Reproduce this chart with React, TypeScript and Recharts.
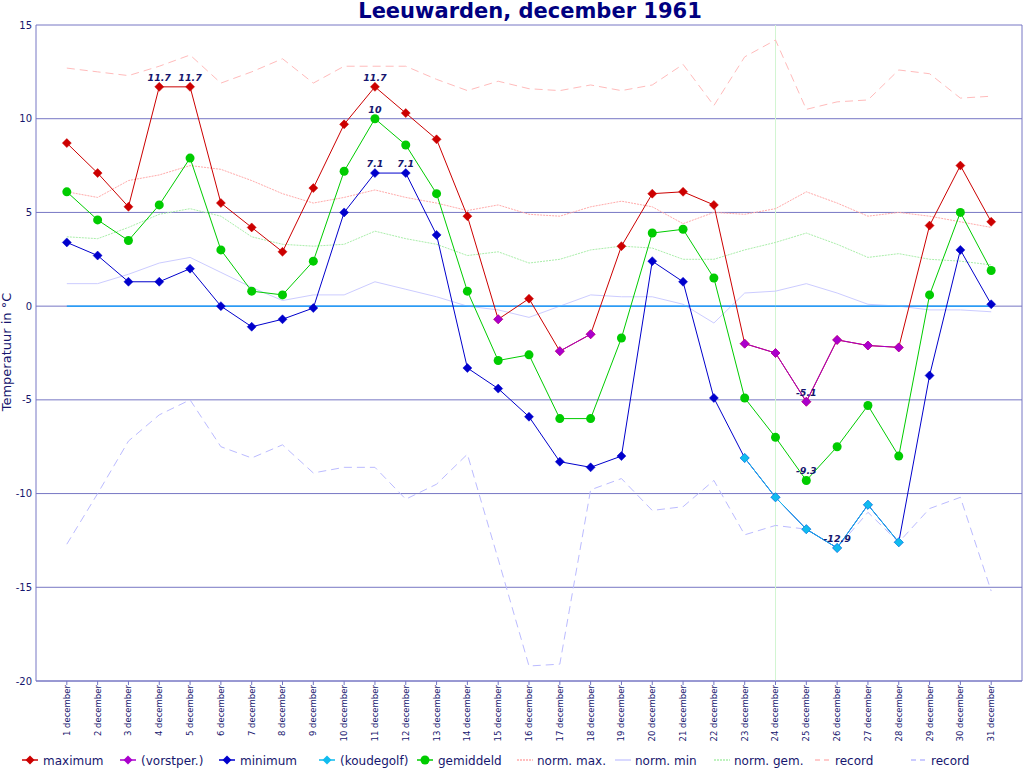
import { LineChart, Line, XAxis, YAxis, CartesianGrid, ReferenceLine } from 'recharts';

// Leeuwarden, december 1961 — dagwaarden in °C
const days = [1, 2, 3, 4, 5, 6, 7, 8, 9, 10, 11, 12, 13, 14, 15, 16, 17, 18, 19, 20, 21, 22, 23, 24, 25, 26, 27, 28, 29, 30, 31];

const maximum = [8.7, 7.1, 5.3, 11.7, 11.7, 5.5, 4.2, 2.9, 6.3, 9.7, 11.7, 10.3, 8.9, 4.8, -0.7, 0.4, -2.4, -1.5, 3.2, 6.0, 6.1, 5.4, -2.0, -2.5, -5.1, -1.8, -2.1, -2.2, 4.3, 7.5, 4.5];
// max onder nul (vorstperiode)
const vorstper = [null, null, null, null, null, null, null, null, null, null, null, null, null, null, -0.7, null, -2.4, -1.5, null, null, null, null, -2.0, -2.5, -5.1, -1.8, -2.1, -2.2, null, null, null];
const minimum = [3.4, 2.7, 1.3, 1.3, 2.0, 0.0, -1.1, -0.7, -0.1, 5.0, 7.1, 7.1, 3.8, -3.3, -4.4, -5.9, -8.3, -8.6, -8.0, 2.4, 1.3, -4.9, -8.1, -10.2, -11.9, -12.9, -10.6, -12.6, -3.7, 3.0, 0.1];
const koudegolf = [null, null, null, null, null, null, null, null, null, null, null, null, null, null, null, null, null, null, null, null, null, null, -8.1, -10.2, -11.9, -12.9, -10.6, -12.6, null, null, null];
const gemiddeld = [6.1, 4.6, 3.5, 5.4, 7.9, 3.0, 0.8, 0.6, 2.4, 7.2, 10.0, 8.6, 6.0, 0.8, -2.9, -2.6, -6.0, -6.0, -1.7, 3.9, 4.1, 1.5, -4.9, -7.0, -9.3, -7.5, -5.3, -8.0, 0.6, 5.0, 1.9];

const normMax = [6.1, 5.8, 6.7, 7.0, 7.5, 7.3, 6.7, 6.0, 5.5, 5.8, 6.2, 5.8, 5.5, 5.1, 5.4, 4.9, 4.8, 5.3, 5.6, 5.3, 4.4, 5.0, 4.9, 5.2, 6.1, 5.5, 4.8, 5.0, 4.8, 4.5, 4.2];
const normMin = [1.2, 1.2, 1.7, 2.3, 2.6, 1.8, 1.0, 0.3, 0.6, 0.6, 1.3, 0.9, 0.5, 0.0, -0.2, -0.6, 0.0, 0.6, 0.5, 0.5, 0.1, -0.9, 0.7, 0.8, 1.2, 0.7, 0.1, 0.0, -0.2, -0.2, -0.3];
const normGem = [3.7, 3.6, 4.2, 4.9, 5.2, 4.8, 3.7, 3.3, 3.2, 3.3, 4.0, 3.6, 3.3, 2.7, 2.9, 2.3, 2.5, 3.0, 3.2, 3.1, 2.5, 2.5, 3.0, 3.4, 3.9, 3.3, 2.6, 2.8, 2.5, 2.4, 2.2];
const recordMax = [12.7, 12.5, 12.3, 12.8, 13.4, 11.9, 12.5, 13.2, 11.9, 12.8, 12.8, 12.8, 12.1, 11.5, 12.0, 11.6, 11.5, 11.8, 11.5, 11.8, 12.9, 10.7, 13.3, 14.2, 10.5, 10.9, 11.0, 12.6, 12.4, 11.1, 11.2];
const recordMin = [-12.7, -10.0, -7.2, -5.8, -5.0, -7.5, -8.1, -7.4, -8.9, -8.6, -8.6, -10.3, -9.5, -7.9, -13.5, -19.2, -19.1, -9.8, -9.2, -10.9, -10.7, -9.3, -12.2, -11.7, -11.9, -12.9, -11.0, -12.6, -10.8, -10.2, -15.2];

const yTicks = [-20, -15, -10, -5, 0, 5, 10, 15];
const xDomain = [0, 32];
const markedDay = 24;

const chartData = days.map((day, i) => ({
  day,
  maximum: maximum[i],
  vorstper: vorstper[i],
  minimum: minimum[i],
  koudegolf: koudegolf[i],
  gemiddeld: gemiddeld[i],
  normMax: normMax[i],
  normMin: normMin[i],
  normGem: normGem[i],
  recordMax: recordMax[i],
  recordMin: recordMin[i],
}));

const FONT = '"DejaVu Sans", Verdana, sans-serif';
const NAVY = '#16166e';
const GRID = '#7777c4';
const C = {
  max: '#cc0000', vorst: '#aa00cc', min: '#0000cc', koude: '#11bbee', gem: '#00cc00',
  nMax: '#ffaaaa', nMin: '#ccccff', nGem: '#aaeeaa', rMax: '#ffbbbb', rMin: '#bbbbff',
};

const diamondPath = (cx: number, cy: number, r: number) => `M${cx},${cy - r}L${cx + r},${cy}L${cx},${cy + r}L${cx - r},${cy}Z`;

const diamondDot = (color: string) => (props: any) => {
  const { cx, cy, index, value } = props;
  if (cx == null || cy == null || value == null) return <g key={`e-${index}`} />;
  return <path key={`d-${index}`} d={diamondPath(cx, cy, 4.5)} fill={color} stroke={color} strokeWidth={0.5} />;
};

const circleDot = (color: string) => (props: any) => {
  const { cx, cy, index, value } = props;
  if (cx == null || cy == null || value == null) return <g key={`e-${index}`} />;
  return <circle key={`c-${index}`} cx={cx} cy={cy} r={4.5} fill={color} />;
};

// label only the highest and lowest value of a series
const extremeLabel = (values: number[]) => {
  const hi = Math.max(...values);
  const lo = Math.min(...values);
  return (props: any) => {
    const { x, y, value, index } = props;
    if (value !== hi && value !== lo) return <g key={`nl-${index}`} />;
    return (
      <text key={`l-${index}`} x={x} y={y - 6} textAnchor="middle" fontSize={9.5} fontWeight="bold"
        fontStyle="italic" fill={NAVY} fontFamily={FONT}>{String(value)}</text>
    );
  };
};

const DayTick = (props: any) => {
  const { x, y, payload } = props;
  return (
    <text x={x} y={y} transform={`rotate(-90, ${x}, ${y})`} textAnchor="end" dy="0.35em"
      fontSize={8.5} fill={NAVY} fontFamily={FONT}>{`${payload.value} december`}</text>
  );
};

const legendItems = [
  { label: 'maximum', color: C.max, kind: 'diamond', dash: '' },
  { label: '(vorstper.)', color: C.vorst, kind: 'diamond', dash: '' },
  { label: 'minimum', color: C.min, kind: 'diamond', dash: '' },
  { label: '(koudegolf)', color: C.koude, kind: 'diamond', dash: '' },
  { label: 'gemiddeld', color: C.gem, kind: 'circle', dash: '' },
  { label: 'norm. max.', color: C.nMax, kind: 'line', dash: '2 1' },
  { label: 'norm. min', color: C.nMin, kind: 'line', dash: '' },
  { label: 'norm. gem.', color: C.nGem, kind: 'line', dash: '2 1' },
  { label: 'record', color: C.rMax, kind: 'line', dash: '5 4' },
  { label: 'record', color: C.rMin, kind: 'line', dash: '5 4' },
];
const legendTextX = [43, 141, 240, 340, 438, 537, 635, 734, 835, 931];

export default function App() {
  return (
    <div style={{ position: 'absolute', left: 0, top: 0, width: 1024, height: 768, background: '#fff' }}>
      <LineChart width={1024} height={768} data={chartData} margin={{ top: 25, right: 2, bottom: 0, left: 0 }}>
        <CartesianGrid vertical={false} stroke={GRID} />
        <XAxis dataKey="day" type="number" domain={xDomain} ticks={days} interval={0} height={87}
          stroke={GRID} tickSize={4} tickMargin={0} tick={<DayTick />} />
        <YAxis type="number" domain={[yTicks[0], yTicks[yTicks.length - 1]]} ticks={yTicks} width={36}
          stroke={GRID} tickLine={false} tickSize={4} tickMargin={0}
          tick={{ fontSize: 10, fill: NAVY, fontFamily: FONT }} />
        <ReferenceLine x={xDomain[1]} stroke={GRID} />
        <ReferenceLine x={markedDay} stroke="#d2f5d2" />

        <Line dataKey="recordMax" stroke={C.rMax} strokeDasharray="8 5" dot={false} activeDot={false} isAnimationActive={false} />
        <Line dataKey="recordMin" stroke={C.rMin} strokeDasharray="8 5" dot={false} activeDot={false} isAnimationActive={false} />
        <Line dataKey="normMax" stroke={C.nMax} strokeDasharray="2 1" dot={false} activeDot={false} isAnimationActive={false} />
        <Line dataKey="normMin" stroke={C.nMin} dot={false} activeDot={false} isAnimationActive={false} />
        <Line dataKey="normGem" stroke={C.nGem} strokeDasharray="2 1" dot={false} activeDot={false} isAnimationActive={false} />

        <ReferenceLine segment={[{ x: days[0], y: 0 }, { x: days[days.length - 1], y: 0 }]} stroke="#0099ff" strokeWidth={1.3} />

        <Line dataKey="maximum" stroke={C.max} dot={diamondDot(C.max)} activeDot={false} label={extremeLabel(maximum)} isAnimationActive={false} />
        <Line dataKey="vorstper" stroke={C.vorst} dot={diamondDot(C.vorst)} activeDot={false} isAnimationActive={false} />
        <Line dataKey="minimum" stroke={C.min} dot={diamondDot(C.min)} activeDot={false} label={extremeLabel(minimum)} isAnimationActive={false} />
        <Line dataKey="koudegolf" stroke={C.koude} dot={diamondDot(C.koude)} activeDot={false} isAnimationActive={false} />
        <Line dataKey="gemiddeld" stroke={C.gem} dot={circleDot(C.gem)} activeDot={false} label={extremeLabel(gemiddeld)} isAnimationActive={false} />
      </LineChart>

      <svg width={1024} height={768} style={{ position: 'absolute', left: 0, top: 0, pointerEvents: 'none' }}>
        <text x={530} y={18} textAnchor="middle" fontSize={21} fontWeight="bold" fill="#000080" fontFamily={FONT}>
          Leeuwarden, december 1961
        </text>
        <text transform="translate(11, 352) rotate(-90)" textAnchor="middle" fontSize={13} fill={NAVY} fontFamily={FONT}>
          Temperatuur in °C
        </text>
        {legendItems.map((item, i) => {
          const tx = legendTextX[i];
          const cy = 760;
          return (
            <g key={i}>
              {item.kind === 'line' ? (
                <line x1={tx - 20} x2={tx - 4} y1={cy} y2={cy} stroke={item.color} strokeWidth={1.5} strokeDasharray={item.dash || undefined} />
              ) : (
                <>
                  <line x1={tx - 21} x2={tx - 5} y1={cy} y2={cy} stroke={item.color} strokeWidth={1.5} />
                  {item.kind === 'diamond'
                    ? <path d={diamondPath(tx - 13, cy, 4.5)} fill={item.color} />
                    : <circle cx={tx - 13} cy={cy} r={4.5} fill={item.color} />}
                </>
              )}
              <text x={tx} y={764.5} fontSize={12} fill={NAVY} fontFamily={FONT}>{item.label}</text>
            </g>
          );
        })}
      </svg>
    </div>
  );
}
